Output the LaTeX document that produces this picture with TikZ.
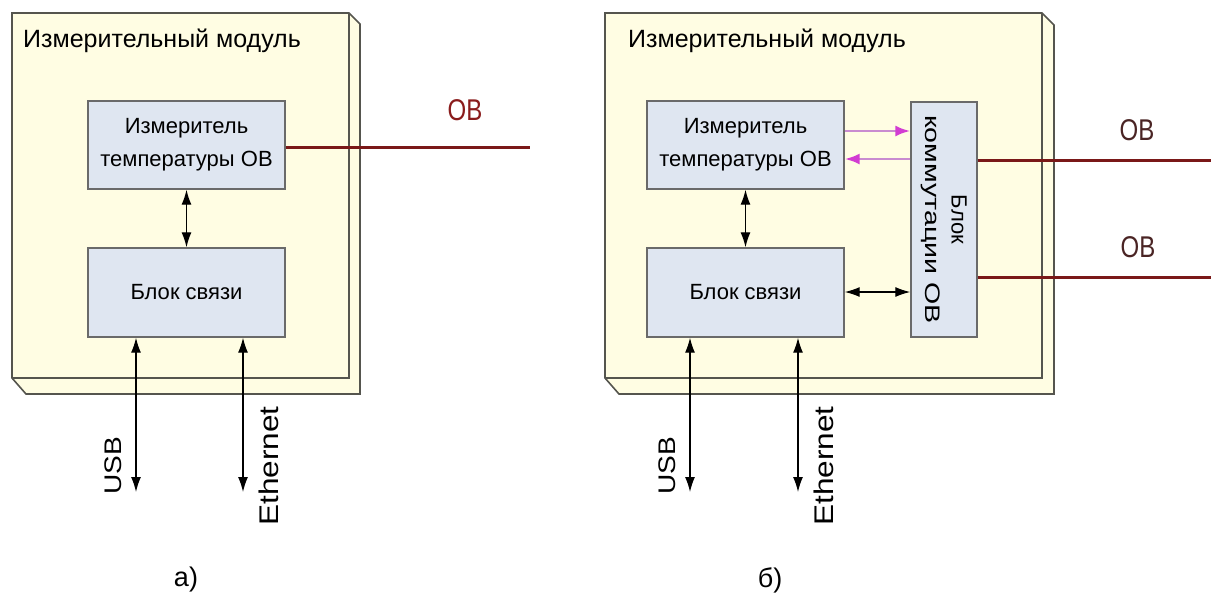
\documentclass[tikz,border=0pt]{standalone}
\usepackage{fontspec}
\setmainfont{Liberation Sans}
\newfontfamily\ovfont[FakeStretch=0.8]{Liberation Sans}
\newfontfamily\vertfont[FakeStretch=1.17]{Liberation Sans}
\newfontfamily\longfont[FakeStretch=1.36]{Liberation Sans}
\usetikzlibrary{arrows.meta}

\definecolor{modfill}{HTML}{FFFDE3}
\definecolor{modline}{HTML}{55554E}
\definecolor{boxfill}{HTML}{DFE6F1}
\definecolor{boxline}{HTML}{6A6A6A}
\definecolor{fiber}{HTML}{7A1818}
\definecolor{fibertext}{HTML}{8A1C1C}
\definecolor{fibertextb}{HTML}{4A2424}
\definecolor{magline}{HTML}{C98BD0}
\definecolor{maghead}{HTML}{D23CD2}

\tikzset{
  modbody/.style={fill=modfill, draw=modline, line width=1.6pt, line join=miter},
  modedge/.style={draw=modline, line width=1.6pt},
  unit/.style={draw=boxline, fill=boxfill, line width=1.4pt, inner sep=0pt,
    align=center, font=\fontsize{22}{33}\selectfont},
  title/.style={anchor=west, inner sep=0pt, font=\fontsize{25}{30}\selectfont},
  link/.style={draw=black, line width=1.3pt,
    {Latex[length=15pt,width=10pt]}-{Latex[length=15pt,width=10pt]}},
  sig/.style={draw=magline, line width=2.6pt, -{Latex[length=15pt,width=11pt,color=maghead]}},
  fiberline/.style={draw=fiber, line width=3pt},
  ovlabel/.style={inner sep=0pt, font=\ovfont\fontsize{30}{30}\selectfont},
  portlabel/.style={inner sep=0pt, rotate=90, font=\vertfont\fontsize{24}{24}\selectfont},
  caption/.style={inner sep=0pt, font=\fontsize{27}{27}\selectfont}
}

\begin{document}
\begin{tikzpicture}[x=1pt, y=-1pt]
\useasboundingbox[fill=white] (0,0) rectangle (1211,598);

% ---------- variant a) ----------
\filldraw[modbody] (12,13) -- (349,13) -- (360,24) -- (360,394) -- (26,394) -- (12,378) -- cycle;
\draw[modedge] (349,13) -- (349,378) -- (12,378);
\node[title] (titleA) at (23,41) {Измерительный модуль};

\node[unit, minimum width=197pt, minimum height=88pt] (measA) at (186.5,145)
  {Измеритель\\температуры ОВ};
\node[unit, minimum width=197pt, minimum height=89pt] (commA) at (186.5,292.5) {Блок связи};

\draw[link] (measA.south) -- (commA.north);

\coordinate (fiberA) at (530,147);
\draw[fiberline] (measA.east |- fiberA) -- (fiberA);
\node[ovlabel, text=fibertext] (ovA) at (465,110) {ОВ};

\coordinate (usbA) at (136,492);
\coordinate (ethA) at (243,492);
\draw[link] (commA.south -| usbA) -- (usbA);
\draw[link] (commA.south -| ethA) -- (ethA);
\node[portlabel] (usbAl) at (113,466) {USB};
\node[portlabel, font=\vertfont\fontsize{27}{27}\selectfont] (ethAl) at (269,466) {Ethernet};

\node[caption] (capA) at (186,580) {а)};

% ---------- variant б) ----------
\filldraw[modbody] (605,13) -- (1042,13) -- (1054,25) -- (1054,394) -- (619,394) -- (605,378) -- cycle;
\draw[modedge] (1042,13) -- (1042,378) -- (605,378);
\node[title] (titleB) at (628,41) {Измерительный модуль};

\node[unit, minimum width=197pt, minimum height=88pt] (measB) at (745.5,145)
  {Измеритель\\температуры ОВ};
\node[unit, minimum width=197pt, minimum height=89pt] (commB) at (745.5,292.5) {Блок связи};
\node[unit, minimum width=66pt, minimum height=235pt] (switchB) at (944,219.5) {};
\node[inner sep=0pt, rotate=-90, align=center, font=\fontsize{22}{26}\selectfont]
  (switchBl) at (switchB.center) {Блок\\{\longfont\fontsize{21}{26}\selectfont коммутации ОВ}};

\draw[link] (measB.south) -- (commB.north);
\draw[link] (commB.east |- 0,292) -- (switchB.west |- 0,292);
\draw[sig] (measB.east |- 0,131) -- (switchB.west |- 0,131);
\draw[sig] (switchB.west |- 0,159) -- (measB.east |- 0,159);

\coordinate (fiberB1) at (1211,160);
\coordinate (fiberB2) at (1211,277);
\draw[fiberline] (switchB.east |- fiberB1) -- (fiberB1);
\draw[fiberline] (switchB.east |- fiberB2) -- (fiberB2);
\node[ovlabel, text=fibertextb] (ovB1) at (1137,130) {ОВ};
\node[ovlabel, text=fibertextb] (ovB2) at (1138,247) {ОВ};

\coordinate (usbB) at (690,492);
\coordinate (ethB) at (798,492);
\draw[link] (commB.south -| usbB) -- (usbB);
\draw[link] (commB.south -| ethB) -- (ethB);
\node[portlabel] (usbBl) at (667,466) {USB};
\node[portlabel, font=\vertfont\fontsize{27}{27}\selectfont] (ethBl) at (824,466) {Ethernet};

\node[caption] (capB) at (770,580) {б)};
\end{tikzpicture}
\end{document}
